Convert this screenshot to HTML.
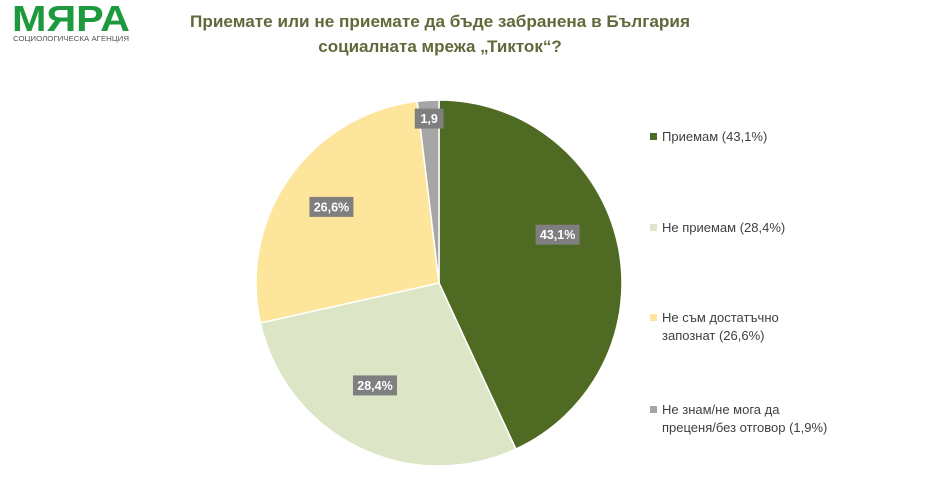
<!DOCTYPE html>
<html><head><meta charset="utf-8"><style>
body{margin:0;background:#fff;width:933px;height:493px;overflow:hidden;font-family:"Liberation Sans","DejaVu Sans",sans-serif}
</style></head><body>
<svg width="933" height="493" xmlns="http://www.w3.org/2000/svg">
<g>
<text x="12" y="31" font-size="36" font-weight="bold" fill="#1e9a3e" font-family="Liberation Sans Narrow, Liberation Sans, sans-serif" textLength="118" lengthAdjust="spacingAndGlyphs">МЯРА</text>
<text x="13" y="41" font-size="7" fill="#555" textLength="116" lengthAdjust="spacingAndGlyphs">СОЦИОЛОГИЧЕСКА АГЕНЦИЯ</text>
</g>
<text x="440" y="27" font-size="17" font-weight="bold" fill="#5f6a3a" text-anchor="middle" textLength="500" lengthAdjust="spacingAndGlyphs">Приемате или не приемате да бъде забранена в България</text>
<text x="440" y="52" font-size="17" font-weight="bold" fill="#5f6a3a" text-anchor="middle">социалната мрежа „Тикток“?</text>
<g id="pie"></g>
<g id="legend"></g>
</svg>
<script>
const categories=["Приемам","Не приемам","Не съм достатъчно запознат","Не знам/не мога да преценя/без отговор"];
const values=[43.1,28.4,26.6,1.9];
const valueLabels=["43,1%","28,4%","26,6%","1,9"];
const legendLines=[["Приемам (43,1%)"],["Не приемам (28,4%)"],["Не съм достатъчно","запознат (26,6%)"],["Не знам/не мога да","преценя/без отговор (1,9%)"]];
const colors=["#4f6a22","#dce6c6","#fde59c","#a6a6a6"];
const NS="http://www.w3.org/2000/svg";
const cx=439,cy=283,r=183;
const labelAngleShift=[-0.17,0.1,0.0,0];
const labelRadius=[0.7,0.66,0.72,0.9];
const pie=document.getElementById('pie');
const total=values.reduce((a,b)=>a+b,0);
let a0=-Math.PI/2;
function pt(a,rr){return [cx+rr*Math.cos(a),cy+rr*Math.sin(a)];}
values.forEach((v,i)=>{
  const a1=a0+v/total*2*Math.PI;
  const p0=pt(a0,r),p1=pt(a1,r);
  const path=document.createElementNS(NS,'path');
  path.setAttribute('d',`M${cx},${cy}L${p0[0]},${p0[1]}A${r},${r} 0 ${a1-a0>Math.PI?1:0} 1 ${p1[0]},${p1[1]}Z`);
  path.setAttribute('fill',colors[i]);path.setAttribute('stroke','#fff');path.setAttribute('stroke-width','1.5');
  
  
  pie.appendChild(path);
  const am=(a0+a1)/2+labelAngleShift[i];
  const lp=pt(am,r*labelRadius[i]);
  const txt=valueLabels[i];
  const w=txt.length*7.6+6;
  const g=document.createElementNS(NS,'g');
  
  
  const rect=document.createElementNS(NS,'rect');
  rect.setAttribute('x',lp[0]-w/2);rect.setAttribute('y',lp[1]-10);rect.setAttribute('width',w);rect.setAttribute('height',20);rect.setAttribute('fill','#7f7f7f');
  const t=document.createElementNS(NS,'text');
  t.setAttribute('x',lp[0]);t.setAttribute('y',lp[1]+4.5);t.setAttribute('text-anchor','middle');t.setAttribute('font-size','12.5');t.setAttribute('font-weight','bold');t.setAttribute('fill','#fff');
  t.textContent=txt;
  g.appendChild(rect);g.appendChild(t);pie.appendChild(g);
  a0=a1;
});
const legend=document.getElementById('legend');
const ly=[137,228,318,410];
legendLines.forEach((lines,i)=>{
  const g=document.createElementNS(NS,'g');
  
  
  const s=document.createElementNS(NS,'rect');
  s.setAttribute('x',650);s.setAttribute('y',ly[i]-4);s.setAttribute('width',7);s.setAttribute('height',7);s.setAttribute('fill',colors[i]);
  g.appendChild(s);
  lines.forEach((ln,j)=>{
    const t=document.createElementNS(NS,'text');
    t.setAttribute('x',662);t.setAttribute('y',ly[i]+4+j*18);t.setAttribute('font-size','13');t.setAttribute('fill','#404040');
    t.textContent=ln;g.appendChild(t);
  });
  legend.appendChild(g);
});
</script>
</body></html>
